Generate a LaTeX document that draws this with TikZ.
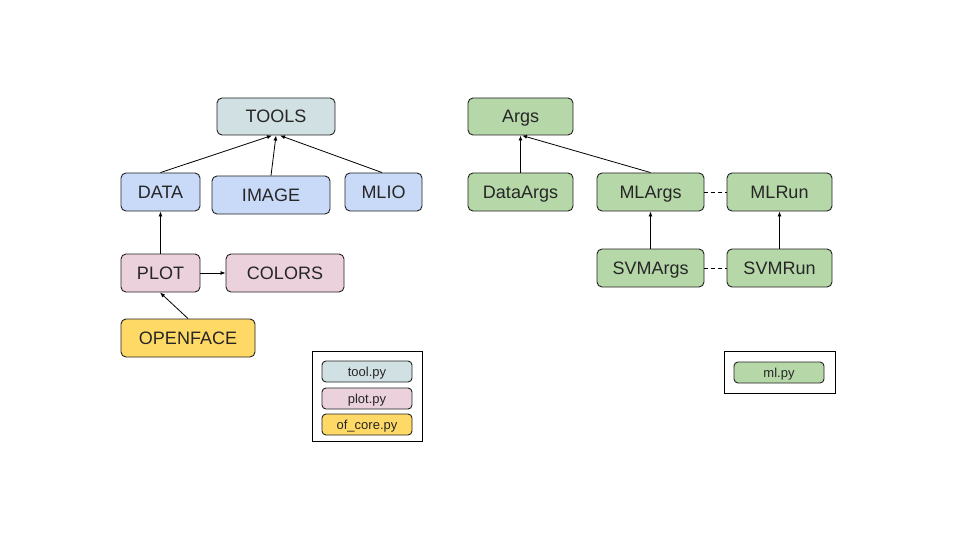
\documentclass[tikz,border=0pt]{standalone}
\usepackage{fontspec}
\setmainfont{Liberation Sans}
\usetikzlibrary{arrows.meta}
\definecolor{ctool}{HTML}{D0E0E3}
\definecolor{cblue}{HTML}{C9DAF8}
\definecolor{cpink}{HTML}{EAD1DC}
\definecolor{cyel}{HTML}{FFD966}
\definecolor{cgreen}{HTML}{B6D7A8}
\definecolor{cline}{HTML}{222222}
\tikzset{
  box/.style={draw=cline, line width=0.9pt, rounded corners=5pt, inner sep=0pt,
    text height=12.9pt, text depth=0pt,
    font=\fontsize{18}{20}\selectfont, text=black!85},
  leg/.style={draw=cline, line width=0.9pt, rounded corners=4pt, inner sep=0pt,
    text height=9.3pt, text depth=0pt,
    minimum width=90pt, minimum height=21pt, font=\fontsize{13}{15}\selectfont, text=black!85},
  frame/.style={draw=black, line width=0.9pt},
  arr/.style={-{Latex[length=5pt,width=4pt]}, line width=0.8pt, draw=black},
  dsh/.style={dashed, dash pattern=on 4pt off 3pt, line width=0.8pt, draw=black}
}
\begin{document}
\begin{tikzpicture}[x=1pt,y=-1pt]
\useasboundingbox[fill=white] (0,0) rectangle (960,540);
% left cluster
\node[box, fill=ctool, minimum width=118pt, minimum height=37pt] (tools) at (276,116.5) {TOOLS};
\node[box, fill=cblue, minimum width=79pt, minimum height=38pt] (data) at (160.5,192) {DATA};
\node[box, fill=cblue, minimum width=118pt, minimum height=38pt] (image) at (271,195) {IMAGE};
\node[box, fill=cblue, minimum width=77pt, minimum height=38pt] (mlio) at (383.5,192) {MLIO};
\node[box, fill=cpink, minimum width=79pt, minimum height=38pt] (plot) at (160.5,273) {PLOT};
\node[box, fill=cpink, minimum width=118pt, minimum height=38pt] (colors) at (285,273) {COLORS};
\node[box, fill=cyel, minimum width=134pt, minimum height=38pt] (openface) at (188,338) {OPENFACE};
% right cluster
\node[box, fill=cgreen, minimum width=105pt, minimum height=37pt] (args) at (520.5,116.5) {Args};
\node[box, fill=cgreen, minimum width=105pt, minimum height=38pt] (dataargs) at (520.5,192) {DataArgs};
\node[box, fill=cgreen, minimum width=107pt, minimum height=38pt] (mlargs) at (650.5,192) {MLArgs};
\node[box, fill=cgreen, minimum width=105pt, minimum height=38pt] (mlrun) at (779.5,192) {MLRun};
\node[box, fill=cgreen, minimum width=107pt, minimum height=38pt] (svmargs) at (650.5,268) {SVMArgs};
\node[box, fill=cgreen, minimum width=105pt, minimum height=38pt] (svmrun) at (779.5,268) {SVMRun};
% connectors
\coordinate (t1) at (272,135.5);
\coordinate (t2) at (276,135.5);
\coordinate (t3) at (280,135.5);
\draw[arr] (data.north) -- (t1);
\draw[arr] (image.north) -- (t2);
\draw[arr] ([xshift=-1.5pt]mlio.north) -- (t3);
\draw[arr] (plot.north) -- (data.south);
\draw[arr] (plot.east) -- (colors.west);
\coordinate (p1) at (160,292.5);
\draw[arr] (openface.north) -- (p1);
\coordinate (a1) at (520.5,135.5);
\coordinate (a2) at (522,135.5);
\draw[arr] (dataargs.north) -- (a1);
\draw[arr] (mlargs.north) -- (a2);
\draw[arr] (svmargs.north) -- (mlargs.south);
\draw[arr] (svmrun.north) -- (mlrun.south);
\draw[dsh] (mlargs.east) -- (mlrun.west);
\draw[dsh] (svmargs.east) -- (svmrun.west);
% legends
\node[frame, minimum width=110pt, minimum height=90pt, inner sep=0pt] (legL) at (367,396) {};
\node[leg, fill=ctool] (ltool) at (367,371.5) {tool.py};
\node[leg, fill=cpink] (lplot) at (367,398.5) {plot.py};
\node[leg, fill=cyel] (lcore) at (367,424.5) {of\_core.py};
\node[frame, minimum width=111pt, minimum height=42pt, inner sep=0pt] (legR) at (779.5,372) {};
\node[leg, fill=cgreen] (lml) at (779,372.5) {ml.py};
\end{tikzpicture}
\end{document}
